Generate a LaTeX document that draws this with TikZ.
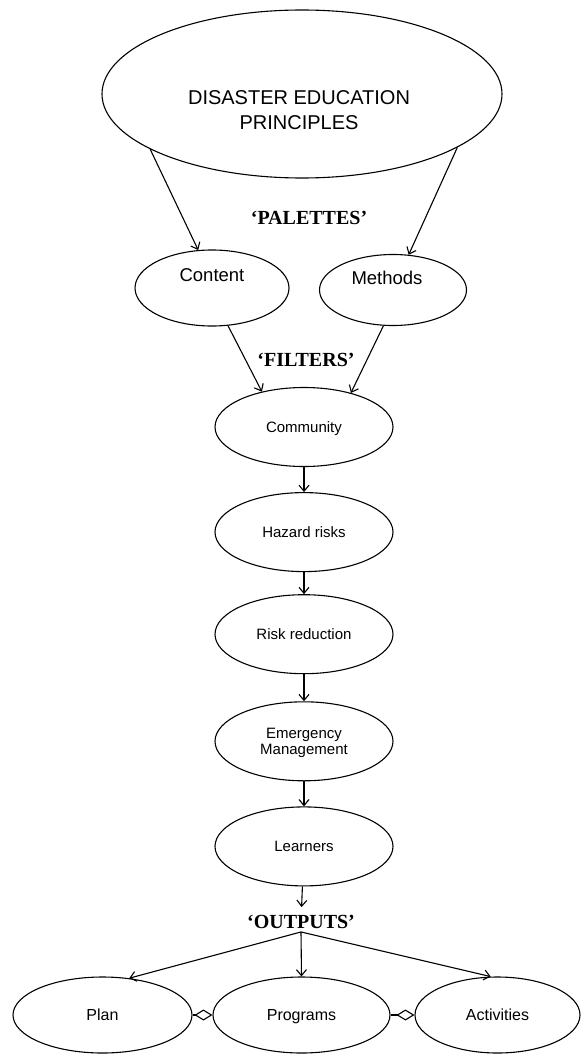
\documentclass[tikz,border=0pt]{standalone}
\usepackage{fontspec}
\setmainfont{Liberation Sans}
\newfontfamily\quotefont{Liberation Serif}
\usetikzlibrary{shapes.geometric, positioning, arrows.meta}

\begin{document}
\begin{tikzpicture}[x=1pt, y=-1pt,
    oval/.style={ellipse, draw, line width=1.1pt, inner sep=0pt, align=center},
    stage/.style={minimum width=178pt, minimum height=79pt, text depth=0pt,
                  font=\fontsize{15}{16.7}\selectfont},
    outbox/.style={minimum width=179pt, minimum height=76pt, text depth=0pt,
                   font=\fontsize{16}{19}\selectfont},
    link/.style={line width=1.1pt, -{Straight Barb[length=6pt, width=10pt]}},
    pairlink/.style={line width=1.1pt, -{Diamond[open, length=18pt, width=11pt]}},
    pal/.style={font=\quotefont\bfseries\fontsize{20}{24}\selectfont, inner sep=3pt}]

  \useasboundingbox (0,0) rectangle (582,1054);

  \node[oval, minimum width=400pt, minimum height=168pt,
        label={[align=center, font=\fontsize{20}{25}\selectfont,
                xshift=-3pt, yshift=-16pt]center:{DISASTER EDUCATION\\PRINCIPLES}}]
        (principles) at (302,94) {};

  \node[pal] (palettes) at (309,218) {‘PALETTES’};

  \node[oval, minimum width=154pt, minimum height=76pt,
        label={[font=\fontsize{18.5}{22}\selectfont, yshift=13pt]center:Content}]
        (content) at (212,288) {};
  \node[oval, minimum width=147pt, minimum height=71pt,
        label={[font=\fontsize{18.5}{22}\selectfont, xshift=-6pt, yshift=12pt]center:Methods}]
        (methods) at (393,290) {};

  \node[pal] (filters) at (306,360) {‘FILTERS’};

  \node[oval, stage] (community) at (304,427) {Community};
  \node[oval, stage, below=25pt of community] (hazard) {Hazard risks};
  \node[oval, stage, below=22pt of hazard] (reduction) {Risk reduction};
  \node[oval, stage, below=27pt of reduction] (emergency) {Emergency\\Management};
  \node[oval, stage, below=25pt of emergency] (learners) {Learners};

  \node[pal] (outputs) at (301,922) {‘OUTPUTS’};

  \node[oval, outbox] (plan) at (102.5,1015) {Plan};
  \node[oval, outbox, minimum width=177pt] (programs) at (301.5,1015) {Programs};
  \node[oval, outbox, minimum width=165pt] (activities) at (497.5,1015) {Activities};

  % palettes
  \draw[link] (principles.-160) -- (content.110);
  \draw[link] (principles.-19.5) -- (methods.66);

  % filters
  \draw[link] (content.-67) -- (community.140);
  \draw[link] (methods.-105) -- (community.36);

  \draw[link] (community) -- (hazard);
  \draw[link] (hazard) -- (reduction);
  \draw[link] (reduction) -- (emergency);
  \draw[link] (emergency) -- (learners);
  \draw[link, shorten >=5pt] (learners) -- (outputs);

  % outputs
  \draw[link] (outputs.south) -- (plan.54);
  \draw[link] (outputs.south) -- (programs.north);
  \draw[link] (outputs.south) -- (activities.100);

  \draw[pairlink] (plan) -- (programs);
  \draw[pairlink] (programs) -- (activities);
\end{tikzpicture}
\end{document}
